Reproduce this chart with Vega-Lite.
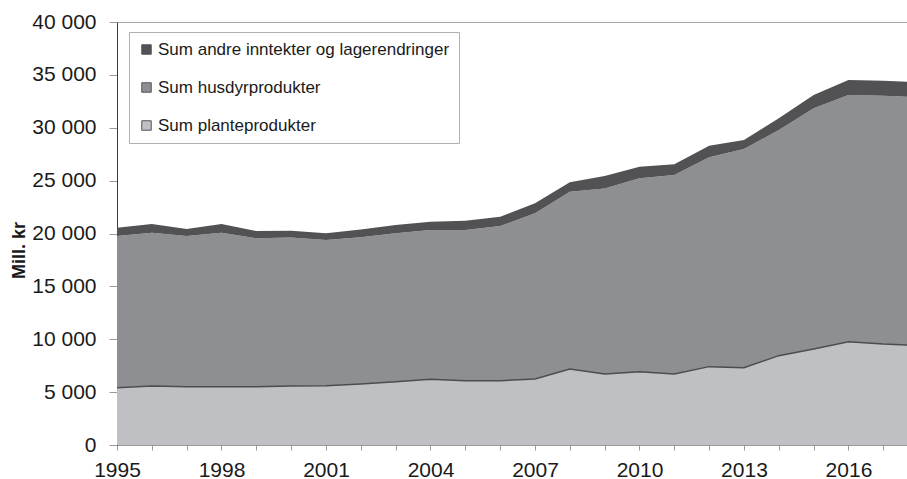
{
  "$schema": "https://vega.github.io/schema/vega-lite/v6.json",
  "width": 790,
  "height": 423,
  "autosize": {"type": "none"},
  "padding": {"left": 117, "top": 22, "right": 0, "bottom": 34},
  "background": "white",
  "config": {
    "view": {"stroke": "#a6a6a6", "strokeWidth": 1},
    "font": "Liberation Sans"
  },
  "data": {
    "values": [
      {"year": 1995, "serie": "Sum planteprodukter", "value": 5420},
      {"year": 1996, "serie": "Sum planteprodukter", "value": 5580},
      {"year": 1997, "serie": "Sum planteprodukter", "value": 5520},
      {"year": 1998, "serie": "Sum planteprodukter", "value": 5520},
      {"year": 1999, "serie": "Sum planteprodukter", "value": 5520},
      {"year": 2000, "serie": "Sum planteprodukter", "value": 5580},
      {"year": 2001, "serie": "Sum planteprodukter", "value": 5610},
      {"year": 2002, "serie": "Sum planteprodukter", "value": 5770},
      {"year": 2003, "serie": "Sum planteprodukter", "value": 5990},
      {"year": 2004, "serie": "Sum planteprodukter", "value": 6210},
      {"year": 2005, "serie": "Sum planteprodukter", "value": 6080},
      {"year": 2006, "serie": "Sum planteprodukter", "value": 6080},
      {"year": 2007, "serie": "Sum planteprodukter", "value": 6240},
      {"year": 2008, "serie": "Sum planteprodukter", "value": 7190},
      {"year": 2009, "serie": "Sum planteprodukter", "value": 6710},
      {"year": 2010, "serie": "Sum planteprodukter", "value": 6930},
      {"year": 2011, "serie": "Sum planteprodukter", "value": 6710},
      {"year": 2012, "serie": "Sum planteprodukter", "value": 7410},
      {"year": 2013, "serie": "Sum planteprodukter", "value": 7310},
      {"year": 2014, "serie": "Sum planteprodukter", "value": 8450},
      {"year": 2015, "serie": "Sum planteprodukter", "value": 9080},
      {"year": 2016, "serie": "Sum planteprodukter", "value": 9770},
      {"year": 2017, "serie": "Sum planteprodukter", "value": 9550},
      {"year": 2018, "serie": "Sum planteprodukter", "value": 9410},
      {"year": 1995, "serie": "Sum husdyrprodukter", "value": 14340},
      {"year": 1996, "serie": "Sum husdyrprodukter", "value": 14500},
      {"year": 1997, "serie": "Sum husdyrprodukter", "value": 14240},
      {"year": 1998, "serie": "Sum husdyrprodukter", "value": 14560},
      {"year": 1999, "serie": "Sum husdyrprodukter", "value": 14030},
      {"year": 2000, "serie": "Sum husdyrprodukter", "value": 14030},
      {"year": 2001, "serie": "Sum husdyrprodukter", "value": 13780},
      {"year": 2002, "serie": "Sum husdyrprodukter", "value": 13870},
      {"year": 2003, "serie": "Sum husdyrprodukter", "value": 14030},
      {"year": 2004, "serie": "Sum husdyrprodukter", "value": 14120},
      {"year": 2005, "serie": "Sum husdyrprodukter", "value": 14250},
      {"year": 2006, "serie": "Sum husdyrprodukter", "value": 14630},
      {"year": 2007, "serie": "Sum husdyrprodukter", "value": 15670},
      {"year": 2008, "serie": "Sum husdyrprodukter", "value": 16760},
      {"year": 2009, "serie": "Sum husdyrprodukter", "value": 17550},
      {"year": 2010, "serie": "Sum husdyrprodukter", "value": 18290},
      {"year": 2011, "serie": "Sum husdyrprodukter", "value": 18820},
      {"year": 2012, "serie": "Sum husdyrprodukter", "value": 19790},
      {"year": 2013, "serie": "Sum husdyrprodukter", "value": 20680},
      {"year": 2014, "serie": "Sum husdyrprodukter", "value": 21340},
      {"year": 2015, "serie": "Sum husdyrprodukter", "value": 22760},
      {"year": 2016, "serie": "Sum husdyrprodukter", "value": 23330},
      {"year": 2017, "serie": "Sum husdyrprodukter", "value": 23480},
      {"year": 2018, "serie": "Sum husdyrprodukter", "value": 23490},
      {"year": 1995, "serie": "Sum andre inntekter og lagerendringer", "value": 790},
      {"year": 1996, "serie": "Sum andre inntekter og lagerendringer", "value": 820},
      {"year": 1997, "serie": "Sum andre inntekter og lagerendringer", "value": 660},
      {"year": 1998, "serie": "Sum andre inntekter og lagerendringer", "value": 820},
      {"year": 1999, "serie": "Sum andre inntekter og lagerendringer", "value": 690},
      {"year": 2000, "serie": "Sum andre inntekter og lagerendringer", "value": 660},
      {"year": 2001, "serie": "Sum andre inntekter og lagerendringer", "value": 630},
      {"year": 2002, "serie": "Sum andre inntekter og lagerendringer", "value": 750},
      {"year": 2003, "serie": "Sum andre inntekter og lagerendringer", "value": 780},
      {"year": 2004, "serie": "Sum andre inntekter og lagerendringer", "value": 790},
      {"year": 2005, "serie": "Sum andre inntekter og lagerendringer", "value": 880},
      {"year": 2006, "serie": "Sum andre inntekter og lagerendringer", "value": 880},
      {"year": 2007, "serie": "Sum andre inntekter og lagerendringer", "value": 940},
      {"year": 2008, "serie": "Sum andre inntekter og lagerendringer", "value": 890},
      {"year": 2009, "serie": "Sum andre inntekter og lagerendringer", "value": 1180},
      {"year": 2010, "serie": "Sum andre inntekter og lagerendringer", "value": 1100},
      {"year": 2011, "serie": "Sum andre inntekter og lagerendringer", "value": 1010},
      {"year": 2012, "serie": "Sum andre inntekter og lagerendringer", "value": 1100},
      {"year": 2013, "serie": "Sum andre inntekter og lagerendringer", "value": 850},
      {"year": 2014, "serie": "Sum andre inntekter og lagerendringer", "value": 1100},
      {"year": 2015, "serie": "Sum andre inntekter og lagerendringer", "value": 1260},
      {"year": 2016, "serie": "Sum andre inntekter og lagerendringer", "value": 1420},
      {"year": 2017, "serie": "Sum andre inntekter og lagerendringer", "value": 1420},
      {"year": 2018, "serie": "Sum andre inntekter og lagerendringer", "value": 1410}
    ]
  },
  "encoding": {
    "x": {
      "field": "year",
      "type": "quantitative",
      "scale": {"domain": [1995, 2017.68], "nice": false, "zero": false},
      "axis": {
        "title": null,
        "values": [1995, 1996, 1997, 1998, 1999, 2000, 2001, 2002, 2003, 2004, 2005, 2006, 2007, 2008, 2009, 2010, 2011, 2012, 2013, 2014, 2015, 2016, 2017],
        "format": "d",
        "labelExpr": "(datum.value - 1995) % 3 == 0 ? datum.label : ''",
        "labelFontSize": 21,
        "labelColor": "#1a1a1a",
        "labelPadding": 9,
        "labelFlush": false,
        "labelOverlap": false,
        "tickSize": 5,
        "tickColor": "#9a9a9a",
        "domainColor": "#9a9a9a",
        "grid": false
      }
    },
    "y": {
      "field": "value",
      "type": "quantitative",
      "stack": "zero",
      "scale": {"domain": [0, 40000], "nice": false},
      "axis": {
        "title": "Mill. kr",
        "titleFontSize": 18,
        "titleFontWeight": "bold",
        "titleColor": "#1a1a1a",
        "titleX": -89,
        "titleY": 228,
        "values": [0, 5000, 10000, 15000, 20000, 25000, 30000, 35000, 40000],
        "labelExpr": "replace(format(datum.value, ','), ',', ' ')",
        "labelFontSize": 21,
        "labelColor": "#1a1a1a",
        "labelPadding": 13,
        "tickSize": 8,
        "tickColor": "#9a9a9a",
        "domainColor": "#3a3a3a",
        "grid": false
      }
    }
  },
  "layer": [
    {
      "mark": {"type": "area", "clip": true, "opacity": 1},
      "encoding": {
        "color": {
          "field": "serie",
          "type": "nominal",
          "scale": {
            "domain": ["Sum andre inntekter og lagerendringer", "Sum husdyrprodukter", "Sum planteprodukter"],
            "range": ["#525254", "#8e8f93", "#bfc0c4"]
          },
          "legend": {
            "title": null,
            "orient": "none",
            "legendX": 12,
            "legendY": 10,
            "direction": "vertical",
            "fillColor": "white",
            "strokeColor": "#b0b0b0",
            "padding": 9,
            "rowPadding": 20,
            "symbolType": "square",
            "symbolSize": 90,
            "symbolStrokeColor": "#555555",
            "symbolStrokeWidth": 1,
            "symbolOpacity": 1,
            "labelFontSize": 17,
            "labelColor": "#1a1a1a",
            "labelOffset": 3,
            "labelLimit": 400
          }
        },
        "order": {"field": "serie", "sort": "descending"}
      }
    },
    {
      "transform": [{"filter": "datum.serie == 'Sum planteprodukter'"}],
      "mark": {"type": "line", "clip": true, "color": "#4d4d4f", "strokeWidth": 1.5},
      "encoding": {}
    }
  ]
}
